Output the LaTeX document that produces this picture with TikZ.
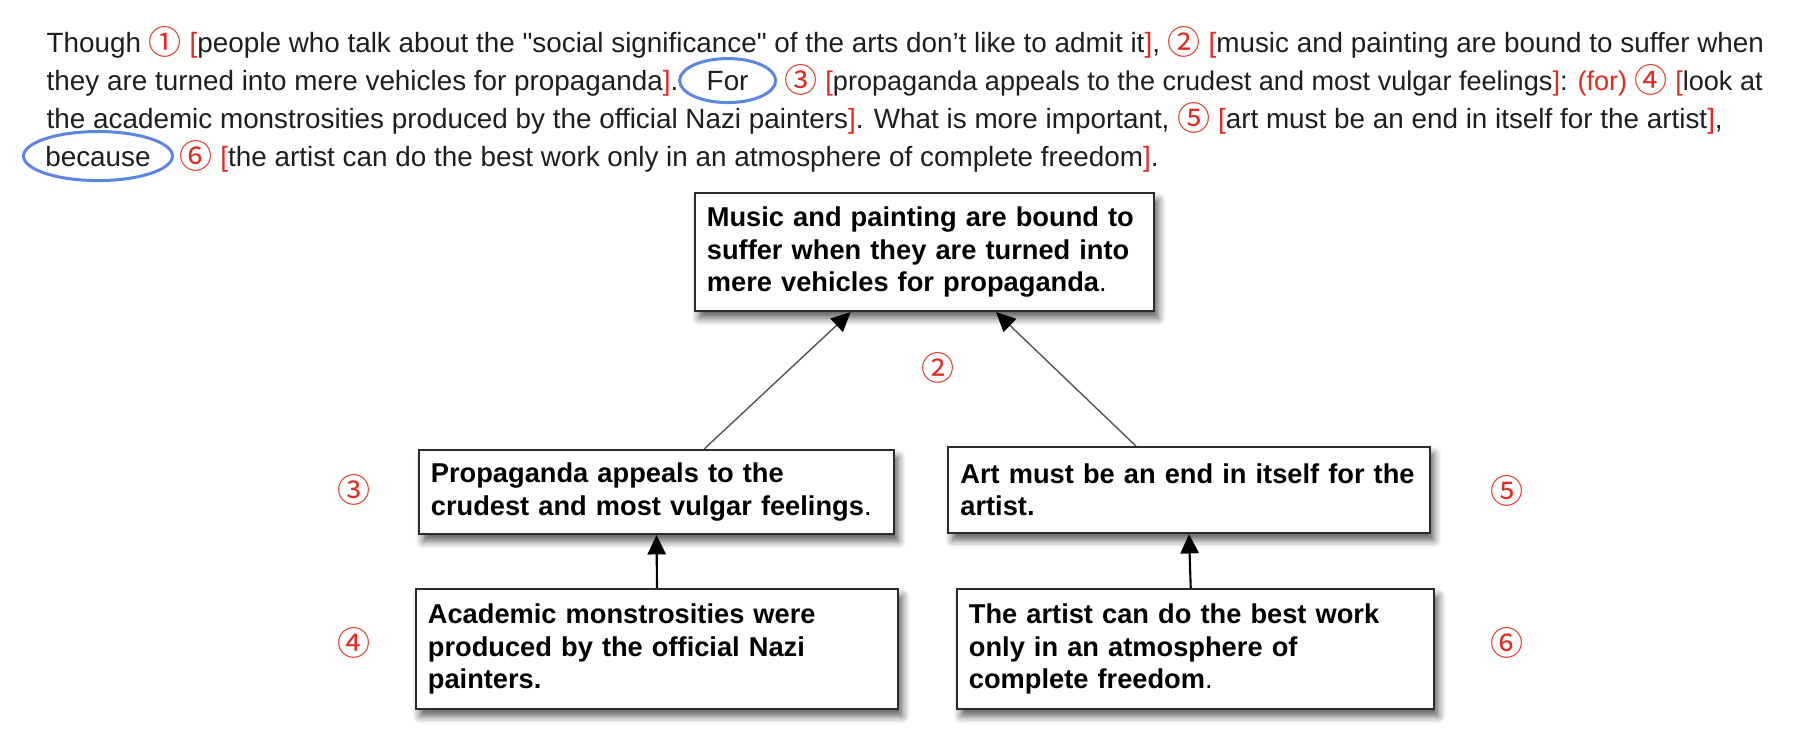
\documentclass[tikz,border=0pt]{standalone}
\usepackage{fontspec}
\setmainfont{Liberation Sans}
\newfontfamily\circfont{Noto Sans CJK SC}
\usepackage{xcolor}
\definecolor{InkGray} {HTML}{1E1E1E}
\definecolor{NumRed}  {HTML}{E5291F}
\definecolor{RingBlue}{HTML}{5B86E5}
\definecolor{BoxEdge} {HTML}{2B2B2B}
\definecolor{LinkGray}{HTML}{555555}
\usetikzlibrary{arrows.meta,positioning,shapes.geometric,shadows.blur,calc}
\newcommand{\rd}[1]{\textcolor{NumRed}{#1}}
\newcommand{\cnum}[1]{\raisebox{-0.7pt}{\circfont\fontsize{9.4pt}{10pt}%
  \selectfont\textcolor{NumRed}{#1}}}

\begin{document}
\begin{tikzpicture}[x=0.01cm,y=-0.01cm,
  txt/.style={font=\fontsize{7.92pt}{10.8pt}\selectfont,text=InkGray,
    inner sep=0pt,anchor=base west},
  ring/.style={ellipse,draw=RingBlue,line width=0.85pt,inner sep=0pt,
    font=\fontsize{7.92pt}{10.8pt}\selectfont,text=InkGray},
  claim/.style={draw=BoxEdge,line width=0.6pt,fill=white,align=left,
    inner xsep=0.12cm,inner ysep=0pt,
    font=\fontsize{7.75pt}{9.2pt}\selectfont\bfseries,
    blur shadow={shadow xshift=1.2pt,shadow yshift=-2pt,
      shadow blur steps=6,shadow opacity=65}},
  num/.style={font=\circfont\fontsize{9.4pt}{10pt}\selectfont,
    text=NumRed,inner sep=0pt},
  arr/.style={-{Triangle[length=5.5pt,width=5.2pt,color=black,fill=black]},
    draw=LinkGray,line width=0.4pt},
  up/.style={arr,draw=black,line width=0.6pt}]
  \useasboundingbox (0,0) rectangle (1801,738);
  % Passage
  \node[txt] (l1) at (46,52) {Though \cnum{①} \rd{[}people who talk about
    the \textquotedbl social significance\textquotedbl\ of the arts don’t
    like to admit it\rd{]}, \cnum{②} \rd{[}music and painting are bound
    to suffer when};
  \node[txt] (l2a) at (46,90)
    {they are turned into mere vehicles for propaganda\rd{]}.};
  \node[ring,minimum width=0.96cm,minimum height=0.44cm,
    base right=-0.01cm of l2a] (for) {For};
  \node[txt,font=\fontsize{7.7pt}{10.8pt}\selectfont,
    base right=0.07cm of for] (l2b) {\cnum{③} \rd{[}propaganda
    appeals to the crudest and most vulgar feelings\rd{]}: \rd{(for)}
    \cnum{④} \rd{[}look at};
  \node[txt] (l3) at (46,128) {the academic monstrosities produced by the
    official Nazi painters\rd{]}. What is more important, \cnum{⑤}
    \rd{[}art must be an end in itself for the artist\rd{]},};
  \node[ring,anchor=base,minimum width=1.45cm,minimum height=0.49cm]
    (because) at (98,166) {because};
  \node[txt,base right=0.05cm of because] (l4) {\cnum{⑥} \rd{[}the artist
    can do the best work only in an atmosphere of complete
    freedom\rd{]}.};
  % Diagram
  \node[claim,text width=4.35cm,minimum height=1.18cm] (claim)
    at (924.5,252) {Music and painting are bound to\\suffer when they
    are turned into\\mere vehicles for propaganda\textmd{.}};
  \node[claim,text width=4.51cm,minimum height=0.84cm] (prop)
    at (656.5,492) {Propaganda appeals to the\\crudest and most vulgar
    feelings\textmd{.}};
  \node[claim,text width=4.57cm,minimum height=0.86cm] (endart)
    at (1189,490) {Art must be an end in itself for the\\artist.};
  \node[claim,text width=4.58cm,minimum height=1.2cm] (nazi)
    at (657,649) {Academic monstrosities were\\produced by the official
    Nazi\\painters.};
  \node[claim,text width=4.53cm,minimum height=1.2cm] (freedom)
    at (1195.5,649) {The artist can do the best work\\only in an
    atmosphere of\\complete freedom\textmd{.}};
  \node[num] (n2) at (938,368) {②};
  \node[num] (n3) at (354,490) {③};
  \node[num] (n4) at (354,643) {④};
  \node[num] (n5) at (1507,491) {⑤};
  \node[num] (n6) at (1507,643) {⑥};
  \draw[arr] ($(prop.north west)!0.6!(prop.north east)$)
    -- ($(claim.south west)!0.34!(claim.south east)$);
  \draw[arr] ($(endart.north west)!0.39!(endart.north east)$)
    -- ($(claim.south west)!0.655!(claim.south east)$);
  \draw[up] (nazi.north) -- (prop.south);
  \draw[up] ($(freedom.north west)!0.49!(freedom.north east)$)
    -- (endart.south);
\end{tikzpicture}
\end{document}
